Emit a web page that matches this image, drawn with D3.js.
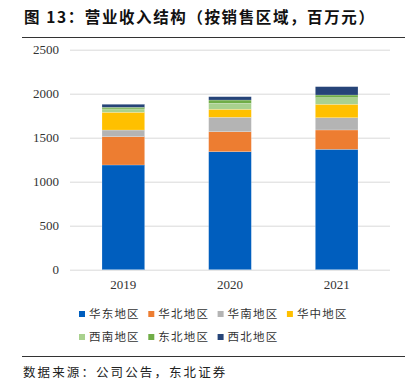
<!DOCTYPE html>
<html>
<head>
<meta charset="utf-8">
<script src="https://cdn.jsdelivr.net/npm/d3@7"></script>
<style>
  body { margin: 0; background: #fff; }
  svg { display: block; }
</style>
</head>
<body>
<div id="chart"></div>
<script>
// data (百万元)
var years = ["2019", "2020", "2021"];
var regions = ["华东地区", "华北地区", "华南地区", "华中地区", "西南地区", "东北地区", "西北地区"];
var colors = ["#005EBE", "#ED7D31", "#B4B4B4", "#FFC000", "#A9D18E", "#70AD47", "#264478"];
var eastChina = [1190, 1341, 1368];
var northChina = [321, 227, 220];
var southChina = [76, 164, 139];
var centralChina = [202, 91, 153];
var southwest = [38, 68, 75];
var northeast = [19, 37, 30];
var northwest = [34, 38, 95];
var yTicks = [0, 500, 1000, 1500, 2000, 2500];

var series = [eastChina, northChina, southChina, centralChina, southwest, northeast, northwest];

var width = 413, height = 392;
var margin = {top: 49.7, left: 70, right: 23, bottom: 122.3};
var plotW = width - margin.left - margin.right;
var plotH = height - margin.top - margin.bottom;

var svg = d3.select("#chart").append("svg")
    .attr("width", width)
    .attr("height", height);

// title + rules
svg.append("text")
    .attr("x", 24)
    .attr("y", 22.5)
    .style("font-family", "'Noto Sans CJK SC', sans-serif")
    .style("font-weight", "bold")
    .style("font-size", "15.5px")
    .style("letter-spacing", "1.6px")
    .style("fill", "#111")
    .text("图 13：营业收入结构（按销售区域，百万元）");

svg.append("line")
    .attr("x1", 22).attr("x2", 405)
    .attr("y1", 37.5).attr("y2", 37.5)
    .style("stroke", "#333").style("stroke-width", 1);

svg.append("line")
    .attr("x1", 22).attr("x2", 405)
    .attr("y1", 356.5).attr("y2", 356.5)
    .style("stroke", "#333").style("stroke-width", 1);

svg.append("text")
    .attr("x", 23)
    .attr("y", 377)
    .style("font-family", "'Noto Sans CJK SC', sans-serif")
    .style("font-size", "12.5px")
    .style("letter-spacing", "2.1px")
    .style("fill", "#222")
    .text("数据来源：公司公告，东北证券");

var g = svg.append("g")
    .attr("transform", "translate(" + margin.left + "," + margin.top + ")");

var x = d3.scaleBand()
    .domain(years)
    .range([0, plotW])
    .paddingInner(0.6)
    .paddingOuter(0.3);

var y = d3.scaleLinear()
    .domain([0, 2500])
    .range([plotH, 0]);

// gridlines
g.selectAll("line.grid")
    .data(yTicks)
    .enter().append("line")
    .attr("class", "grid")
    .attr("x1", 0).attr("x2", plotW)
    .attr("y1", function(d) { return Math.round(y(d)) + 0.5; })
    .attr("y2", function(d) { return Math.round(y(d)) + 0.5; })
    .style("stroke", "#D9D9D9")
    .style("stroke-width", 1);

// y labels
g.selectAll("text.ytick")
    .data(yTicks)
    .enter().append("text")
    .attr("class", "ytick")
    .attr("x", -11)
    .attr("y", function(d) { return y(d); })
    .attr("dy", "0.35em")
    .attr("text-anchor", "end")
    .style("font-family", "'Liberation Serif', serif")
    .style("font-size", "13px")
    .style("fill", "#333")
    .text(function(d) { return d; });

// x labels
g.selectAll("text.xtick")
    .data(years)
    .enter().append("text")
    .attr("class", "xtick")
    .attr("x", function(d) { return x(d) + x.bandwidth() / 2; })
    .attr("y", plotH + 19)
    .attr("text-anchor", "middle")
    .style("font-family", "'Liberation Serif', serif")
    .style("font-size", "13px")
    .style("fill", "#333")
    .text(function(d) { return d; });

// stacked bars
var table = years.map(function(yr, i) {
    var row = {year: yr};
    regions.forEach(function(r, k) { row[r] = series[k][i]; });
    return row;
});
var stacked = d3.stack().keys(regions)(table);

var layer = g.selectAll("g.layer")
    .data(stacked)
    .enter().append("g")
    .attr("class", "layer")
    .style("fill", function(d, k) { return colors[k]; });

layer.selectAll("rect")
    .data(function(d) { return d; })
    .enter().append("rect")
    .attr("x", function(d) { return x(d.data.year); })
    .attr("y", function(d) { return y(d[1]); })
    .attr("width", x.bandwidth())
    .attr("height", function(d) { return y(d[0]) - y(d[1]); })
    .style("stroke", "#fff")
    .style("stroke-opacity", 0.4)
    .style("stroke-width", 0.5);

// legend
var legend = svg.append("g");
var item = legend.selectAll("g.item")
    .data(regions)
    .enter().append("g")
    .attr("class", "item")
    .attr("transform", function(d, i) {
        var col = i % 4, row = Math.floor(i / 4);
        return "translate(" + (79 + col * 69.3) + "," + (314 + row * 23) + ")";
    });

item.append("rect")
    .attr("x", 0).attr("y", -3)
    .attr("width", 6).attr("height", 6)
    .style("fill", function(d, i) { return colors[i]; });

item.append("text")
    .attr("x", 10)
    .attr("y", 0)
    .attr("dy", "0.36em")
    .style("font-family", "'Noto Sans CJK SC', sans-serif")
    .style("font-size", "11.5px")
    .style("letter-spacing", "1.2px")
    .style("fill", "#333")
    .text(function(d) { return d; });
</script>
</body>
</html>
